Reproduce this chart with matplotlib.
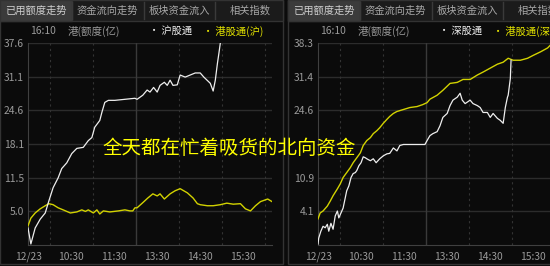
import matplotlib
matplotlib.use("Agg")
import matplotlib.pyplot as plt
from matplotlib.patches import Rectangle

plt.rcParams['font.family'] = ['Noto Sans CJK SC', 'DejaVu Sans']

# 沪股通 / 港股通(沪) used quota, 亿
sh_times = ["9:30", "9:34", "9:40", "9:47", "9:54", "9:59", "10:05", "10:12", "10:17", "10:24",
            "10:31", "10:38", "10:47", "10:54", "10:59", "11:03", "11:10", "11:13", "11:17", "11:22",
            "11:31", "11:59", "13:02", "13:10", "13:16", "13:20", "13:25", "13:30", "13:34", "13:40",
            "13:44", "13:48", "13:52", "13:58", "14:02", "14:09", "14:16", "14:23", "14:30", "14:35",
            "14:44", "14:48", "14:51", "14:54", "14:56", "14:58"]
sh_north = [1.8, -1.3, 1.8, 3.5, 4.7, 7.0, 9.6, 11.5, 13.3, 14.4,
            16.2, 17.2, 17.4, 18.7, 19.3, 21.3, 22.6, 24.2, 26.1, 26.5,
            26.5, 26.9, 26.7, 27.5, 28.5, 28.1, 29.0, 28.1, 29.4, 30.0,
            29.4, 30.4, 29.4, 29.5, 31.4, 31.0, 31.4, 31.8, 31.8, 31.0,
            29.8, 28.3, 30.4, 33.7, 35.6, 37.6]

hk_sh_times = ["9:30", "9:34", "9:40", "9:47", "9:54", "9:59", "10:05", "10:12", "10:19", "10:29",
               "10:38", "10:45", "10:50", "10:54", "11:01", "11:06", "11:10", "11:15", "11:24", "11:36",
               "11:45", "11:52", "11:56", "11:59", "13:02", "13:10", "13:17", "13:24", "13:30", "13:34",
               "13:40", "13:48", "13:55", "14:02", "14:12", "14:20", "14:26", "14:30", "14:40", "14:48",
               "14:58", "15:07", "15:16", "15:26", "15:33", "15:40", "15:47", "15:54", "16:04", "16:10"]
hk_sh = [2.2, 3.7, 4.7, 5.5, 6.1, 6.5, 6.3, 5.7, 5.3, 4.7,
         4.9, 5.3, 5.0, 5.3, 4.7, 5.3, 4.5, 5.1, 4.9, 5.1,
         5.3, 5.1, 5.1, 5.7, 5.7, 6.7, 7.6, 8.4, 8.0, 8.4,
         7.4, 8.4, 9.0, 9.4, 8.6, 7.6, 6.5, 6.3, 6.1, 6.1,
         6.3, 6.6, 6.4, 6.5, 5.5, 5.1, 6.1, 6.9, 7.4, 6.9]

# 深股通 / 港股通(深)
sz_times = ["9:30", "9:31", "9:34", "9:37", "9:40", "9:43", "9:45", "9:48", "9:51", "9:54",
            "9:57", "9:59", "10:02", "10:05", "10:08", "10:10", "10:13", "10:16", "10:19", "10:22",
            "10:24", "10:27", "10:30", "10:33", "10:36", "10:38", "10:43", "10:47", "10:51", "10:56",
            "11:01", "11:06", "11:10", "11:15", "11:20", "11:24", "11:29", "11:59", "13:02", "13:06",
            "13:10", "13:16", "13:20", "13:24", "13:30", "13:34", "13:38", "13:44", "13:48", "13:51",
            "13:55", "14:02", "14:06", "14:12", "14:16", "14:20", "14:26", "14:30", "14:34", "14:40",
            "14:44", "14:48", "14:51", "14:54", "14:55", "14:58", "14:59"]
sz_north = [-2.5, -1.3, 0.1, 1.1, 0.8, 1.5, 0.1, 1.7, 0.5, 3.2,
            4.2, 2.8, 3.8, 4.8, 6.9, 8.3, 9.3, 11.0, 11.8, 12.0,
            12.4, 13.4, 14.0, 15.2, 15.0, 14.8, 14.4, 14.8, 14.0, 14.8,
            15.4, 15.8, 15.9, 17.0, 16.4, 17.5, 17.7, 17.7, 18.5, 19.5,
            19.9, 20.3, 21.5, 23.2, 24.0, 25.6, 26.7, 27.3, 28.1, 26.7,
            26.0, 26.7, 26.0, 25.6, 25.2, 24.2, 24.2, 23.2, 24.0, 23.0,
            22.6, 22.0, 25.2, 27.3, 27.7, 31.1, 34.8]

hk_sz_times = ["9:30", "9:33", "9:37", "9:43", "9:47", "9:51", "9:57", "10:01", "10:05", "10:10",
               "10:15", "10:19", "10:24", "10:29", "10:33", "10:38", "10:43", "10:47", "10:52", "10:56",
               "11:01", "11:06", "11:10", "11:15", "11:20", "11:29", "11:38", "11:48", "11:56", "13:02",
               "13:06", "13:16", "13:24", "13:34", "13:44", "13:52", "14:02", "14:12", "14:20", "14:30",
               "14:40", "14:48", "14:55", "15:02", "15:12", "15:22", "15:30", "15:40", "15:50", "15:54",
               "16:10"]
hk_sz = [2.6, 3.8, 4.2, 5.2, 6.2, 7.3, 8.7, 9.7, 11.0, 12.0,
         13.0, 14.0, 15.0, 16.0, 17.5, 18.5, 19.1, 19.9, 20.5, 21.1,
         22.0, 22.8, 23.4, 24.0, 24.4, 24.8, 25.2, 25.4, 25.8, 26.2,
         26.9, 27.7, 28.7, 30.1, 30.3, 30.9, 30.9, 31.8, 32.4, 33.2,
         34.0, 34.4, 35.2, 34.8, 34.8, 35.2, 35.8, 36.5, 37.3, 37.9,
         38.3]

left_yticks = [5.0, 11.5, 18.1, 24.6, 31.1, 37.6]
right_yticks = [4.1, 10.9, 17.8, 24.6, 31.4, 38.3]
xtick_labels = ["12/23", "10:30", "11:30", "13:30", "14:30", "15:30"]
tabs = ["已用额度走势", "资金流向走势", "板块资金流入", "相关指数"]

BG = "#0b0b0b"
GRID = "#2c2c2c"
TXT = "#9a9a9a"
WHITE = "#eeeeee"
YELLOW = "#d2d200"


def trade_min(hhmm):
    h, m = map(int, hhmm.split(":"))
    t = h * 60 + m
    return t - 570 if t <= 720 else t - 780 + 150


W, H = 550, 266
fig = plt.figure(figsize=(W / 100, H / 100), dpi=100, facecolor=BG)


def px_box(x0, y0, w, h):
    return [x0 / W, 1 - (y0 + h) / H, w / W, h / H]


# panel frames and tab bars
bg_ax = fig.add_axes([0, 0, 1, 1])
bg_ax.set_xlim(0, W)
bg_ax.set_ylim(H, 0)
bg_ax.axis("off")
for x0, x1 in [(0, 283), (288, 600)]:
    bg_ax.add_patch(Rectangle((x0, 0), x1 - x0, 264, facecolor=BG, edgecolor="#333333", lw=1))
    bg_ax.add_patch(Rectangle((x0, 0), x1 - x0, 21, facecolor="#1b1b1b", edgecolor="#333333", lw=1))
    bg_ax.add_patch(Rectangle((x0, 0), 72, 21, facecolor="#3b3b3b", edgecolor="#333333", lw=1))
    for i, name in enumerate(tabs):
        cx = x0 + 36 + i * 71.5
        if i > 0:
            bg_ax.plot([x0 + i * 71.5 + 0.5] * 2, [2, 19], color="#3a3a3a", lw=1)
        bg_ax.text(cx, 11, name, color="#cfcfcf" if i == 0 else "#a8a8a8",
                   fontsize=7.4, ha="center", va="center")


def draw_panel(x0, ticks, north, north_t, hk, hk_t, north_name, hk_name, hidden=()):
    ax = fig.add_axes(px_box(x0, 43, 244, 202))
    ax.set_facecolor(BG)
    step = ticks[1] - ticks[0]
    ax.set_ylim(ticks[0] - step, ticks[-1])
    ax.set_xlim(0, 340)
    for v in ticks:
        ax.axhline(v, color=GRID, lw=1, zorder=1)
    for m in [30, 90, 210, 270, 330]:
        ax.axvline(m, color="#333333", lw=0.8, ls=(0, (2, 3)), zorder=1)
    ax.axvline(150, color="#3a3a3a", lw=1, zorder=1)
    for s in ["top", "right"]:
        ax.spines[s].set_visible(False)
    for s in ["left", "bottom"]:
        ax.spines[s].set_color("#404040")
    ax.set_yticks(ticks)
    ax.set_yticklabels(["" if v in hidden else f"{v:.1f}" for v in ticks])
    ax.set_xticks([0, 60, 120, 180, 240, 300])
    ax.set_xticklabels(xtick_labels)
    ax.tick_params(length=0, colors=TXT, labelsize=7.4, pad=3)
    ax.tick_params(axis="x", pad=5)

    ax.plot([trade_min(t) for t in hk_t], hk, color=YELLOW, lw=1, zorder=3)
    ax.plot([trade_min(t) for t in north_t], north, color=WHITE, lw=0.9, zorder=4)

    bg_ax.text(x0 + 2, 31, "16:10", color=TXT, fontsize=7.4, va="center")
    bg_ax.text(x0 + 40, 31, "港(额度(亿)", color=TXT, fontsize=7.6, va="center")
    bg_ax.text(x0 + 121, 31, "· " + north_name, color="#f0f0f0", fontsize=7.4, va="center")
    bg_ax.text(x0 + 175, 31, "· " + hk_name, color="#e6e600", fontsize=7.4, va="center")
    return ax


draw_panel(28, left_yticks, sh_north, sh_times, hk_sh, hk_sh_times, "沪股通", "港股通(沪)")
# the 17.8 label sits under the headline, so it is left blank
draw_panel(318, right_yticks, sz_north, sz_times, hk_sz, hk_sz_times, "深股通", "港股通(深)",
           hidden=(17.8,))

fig.text(229 / W, 1 - 149 / H, "全天都在忙着吸货的北向资金", color="#ffff00",
         fontsize=14, ha="center", va="center", zorder=10)

fig.savefig("out.png", dpi=100, facecolor=BG)
